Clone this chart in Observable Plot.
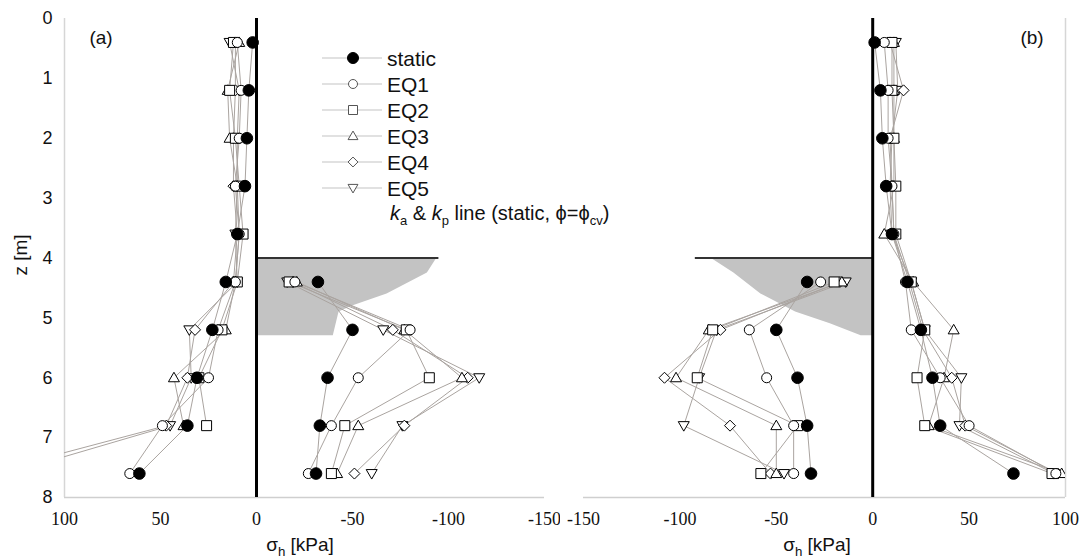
<!DOCTYPE html>
<html><head><meta charset="utf-8">
<script src="https://cdn.jsdelivr.net/npm/d3@7"></script>
<script src="https://cdn.jsdelivr.net/npm/@observablehq/plot@0.6"></script>
<style>
body{margin:0;background:#fff;}
#wrap{position:relative;width:1081px;height:560px;overflow:hidden;font-family:"Liberation Sans",Arial,sans-serif;color:#111;}
#pa,#pb{position:absolute;top:0;}
#pa{left:0px} #pb{left:560px}
.lbl{position:absolute;white-space:nowrap;line-height:1;}
#legend{position:absolute;left:0;top:0;}
g[aria-label="x-axis tick label"] text, g[aria-label="x-axis tick label"]{font-family:"Liberation Serif","Times New Roman",serif !important;font-size:18px !important;}
g[aria-label="y-axis tick label"] text, g[aria-label="y-axis tick label"]{font-family:"Liberation Sans",Arial,sans-serif !important;font-size:18px !important;}
</style></head><body>
<div id="wrap"><div id="pa"></div><div id="pb"></div></div>
<script>
// ---------- data ----------
const seriesNames = ["static", "EQ1", "EQ2", "EQ3", "EQ4", "EQ5"];
const depthRetained = [0.4, 1.2, 2.0, 2.8, 3.6, 4.4, 5.2, 6.0, 6.8, 7.6];
const depthExcavated = [4.4, 5.2, 6.0, 6.8, 7.6];

// panel (a) – retained side (positive sigma_h)
const aRetStatic = [2, 4, 5, 6, 10, 16, 23, 31, 36, 61];
const aRetEQ1 = [10, 8, 9, 11, 9, 11, 20, 25, 49, 66];
const aRetEQ2 = [12, 14, 11, 9, 7, 10, 18, 30, 26, null];
const aRetEQ3 = [9, 15, 14, 10, 9, 11, 16, 43, 38, null];
const aRetEQ4 = [11, 11, 12, 12, 10, 12, 32, 36, 47, 141];
const aRetEQ5 = [14, 9, 10, 10, 11, 10, 35, 34, 45, 130];
// panel (a) – excavated side (negative sigma_h)
const aExcStatic = [-32, -50, -37, -33, -31];
const aExcEQ1 = [-20, -80, -53, -39, -27];
const aExcEQ2 = [-17, -78, -90, -46, -39];
const aExcEQ3 = [-21, -77, -107, -53, -42];
const aExcEQ4 = [-19, -71, -110, -77, -51];
const aExcEQ5 = [-16, -66, -116, -76, -60];

// panel (b) – retained side
const bRetStatic = [1, 4, 5, 7, 10, 18, 25, 31, 35, 73];
const bRetEQ1 = [6, 8, 8, 10, 11, 17, 20, 35, 50, 95];
const bRetEQ2 = [10, 10, 11, 12, 12, 20, 27, 23, 27, 93];
const bRetEQ3 = [11, 11, 11, 11, 6, 21, 42, 37, 29, 98];
const bRetEQ4 = [9, 16, 9, 10, 11, 19, 26, 41, 48, 96];
const bRetEQ5 = [12, 13, 10, 9, 10, 20, 27, 46, 45, 94];
// panel (b) – excavated side
const bExcStatic = [-34, -50, -39, -34, -32];
const bExcEQ1 = [-27, -64, -55, -41, -41];
const bExcEQ2 = [-20, -83, -91, -39, -58];
const bExcEQ3 = [-16, -85, -102, -50, -50];
const bExcEQ4 = [-17, -79, -108, -74, -53];
const bExcEQ5 = [-14, -81, -90, -98, -46];

// shaded zone (ka & kp) below excavation level
const aShadeZ = [4.0, 4.25, 4.6, 4.8, 4.9, 5.3];
const aShadeX = [-94, -89, -68, -50, -43, -40];
const bShadeZ = [4.0, 4.25, 4.6, 4.9, 5.1, 5.3];
const bShadeX = [-84, -72, -58, -40, -22, -6];

const excavationZ = [4];
const aExcavationEnd = -95;
const bExcavationEnd = -92;

const aTicks = [100, 50, 0, -50, -100, -150];
const bTicks = [-150, -100, -50, 0, 50, 100];
const zTicks = [0, 1, 2, 3, 4, 5, 6, 7, 8];

// ---------- symbols ----------
function R(size){ return Math.sqrt(size / Math.PI); }
const symCircle = {draw(c, s){ const r = R(s); c.moveTo(r, 0); c.arc(0, 0, r, 0, 2*Math.PI); c.closePath(); }};
const symSquare = {draw(c, s){ const r = R(s); c.rect(-r, -r, 2*r, 2*r); }};
const symUp = {draw(c, s){ const r = R(s); c.moveTo(0, -1.1*r); c.lineTo(1.1*r, 0.8*r); c.lineTo(-1.1*r, 0.8*r); c.closePath(); }};
const symDiamond = {draw(c, s){ const r = R(s); c.moveTo(0, -1.1*r); c.lineTo(1.1*r, 0); c.lineTo(0, 1.1*r); c.lineTo(-1.1*r, 0); c.closePath(); }};
const symDown = {draw(c, s){ const r = R(s); c.moveTo(0, 1.1*r); c.lineTo(1.1*r, -0.8*r); c.lineTo(-1.1*r, -0.8*r); c.closePath(); }};
const symbols = [symCircle, symCircle, symSquare, symUp, symDiamond, symDown];

function buildRows(ret, exc){
  const rows = [];
  seriesNames.forEach((name, i) => {
    depthRetained.forEach((z, j) => rows.push({s: name, key: name + "-ret", z, v: ret[i][j]}));
    depthExcavated.forEach((z, j) => rows.push({s: name, key: name + "-exc", z, v: exc[i][j]}));
  });
  return rows;
}
const aRows = buildRows([aRetStatic, aRetEQ1, aRetEQ2, aRetEQ3, aRetEQ4, aRetEQ5],
                        [aExcStatic, aExcEQ1, aExcEQ2, aExcEQ3, aExcEQ4, aExcEQ5]);
const bRows = buildRows([bRetStatic, bRetEQ1, bRetEQ2, bRetEQ3, bRetEQ4, bRetEQ5],
                        [bExcStatic, bExcEQ1, bExcEQ2, bExcEQ3, bExcEQ4, bExcEQ5]);

function panel(cfg){
  const shade = cfg.shadeZ.map((z, i) => ({z, x: cfg.shadeX[i]}));
  const dotMarks = [];
  for (let i = seriesNames.length - 1; i >= 0; i--) {
    dotMarks.push(Plot.dot(cfg.rows.filter(d => d.s === seriesNames[i] && d.v != null), {
      x: "v", y: "z", symbol: symbols[i], r: i === 0 ? 5.8 : 5,
      fill: i === 0 ? "#000" : "#fff", stroke: "#000", strokeWidth: 1, clip: true
    }));
  }
  const marks = [
    Plot.areaX(shade, {y: "z", x1: 0, x2: "x", fill: "#c3c3c3"}),
    Plot.ruleY([8], {stroke: "#cfcfcf", strokeWidth: 1.5}),
    Plot.ruleX([100], {stroke: "#d6d6d6", strokeWidth: 1.5}),
    Plot.ruleY(excavationZ, {x1: 0, x2: cfg.excEnd, stroke: "#333", strokeWidth: 2}),
    Plot.line(cfg.rows, {x: "v", y: "z", z: "key", stroke: "#aaa4a0", strokeWidth: 1, clip: true}),
    Plot.ruleX([0], {stroke: "#000", strokeWidth: 3}),
    ...dotMarks,
    Plot.axisX({ticks: cfg.ticks, tickSize: 0, tickPadding: 15, fontSize: 18,
      fontFamily: "Liberation Serif", tickFormat: d => String(d), label: null})
  ];
  if (cfg.yAxis) marks.push(Plot.axisY({ticks: zTicks, tickSize: 0, tickPadding: 12, fontSize: 18,
      fontFamily: "Liberation Sans", label: null}));
  return Plot.plot({
    width: cfg.width, height: 560,
    marginLeft: cfg.ml, marginRight: cfg.mr, marginTop: 18, marginBottom: 63,
    x: {domain: cfg.domain, axis: null},
    y: {domain: [0, 8], reverse: true, axis: null},
    style: {background: "transparent", color: "#111"},
    marks
  });
}

document.getElementById("pa").append(panel({
  rows: aRows, domain: [100, -150], ticks: aTicks, width: 560, ml: 64, mr: 16,
  shadeZ: aShadeZ, shadeX: aShadeX, excEnd: aExcavationEnd, yAxis: true
}));
document.getElementById("pb").append(panel({
  rows: bRows, domain: [-150, 100], ticks: bTicks, width: 521, ml: 23, mr: 16,
  shadeZ: bShadeZ, shadeX: bShadeX, excEnd: bExcavationEnd, yAxis: false
}));

// ---------- text labels ----------
const wrap = document.getElementById("wrap");
function label(html, x, y, size, extra){
  const d = document.createElement("div");
  d.className = "lbl"; d.innerHTML = html;
  d.style.left = x + "px"; d.style.top = y + "px"; d.style.fontSize = size + "px";
  d.style.transform = extra || "translate(-50%,-50%)";
  wrap.append(d);
}
label("(a)", 101, 37, 19);
label("(b)", 1032, 37, 19);
label("z [m]", 20, 255, 19, "translate(-50%,-50%) rotate(-90deg)");
label("σ<sub style='font-size:70%'>h</sub> [kPa]", 300, 547, 19);
label("σ<sub style='font-size:70%'>h</sub> [kPa]", 817, 547, 19);

// ---------- legend ----------
const legendItems = ["static", "EQ1", "EQ2", "EQ3", "EQ4", "EQ5"];
const legendY = [58, 84, 110, 136, 162, 188];
const lg = d3.select(wrap).append("svg").attr("id", "legend").attr("width", 1081).attr("height", 560);
legendItems.forEach((name, i) => {
  const y = legendY[i];
  lg.append("line").attr("x1", 322).attr("x2", 382).attr("y1", y).attr("y2", y)
    .attr("stroke", "#c4c4c4").attr("stroke-width", 1.2);
  const r = i === 0 ? 5.5 : 4.5;
  lg.append("path").attr("transform", `translate(353,${y})`)
    .attr("d", d3.symbol().type(symbols[i]).size(Math.PI * r * r)())
    .attr("fill", i === 0 ? "#000" : "#fff").attr("stroke", i === 0 ? "#000" : "#555").attr("stroke-width", 1);
  lg.append("text").attr("x", 387).attr("y", y).attr("dy", "0.36em")
    .attr("font-size", 21).attr("font-family", "Liberation Sans, Arial, sans-serif").attr("fill", "#111").text(name);
});
label("<i>k</i><sub style='font-size:65%'>a</sub> &amp; <i>k</i><sub style='font-size:65%'>p</sub> line (static, ϕ=ϕ<sub style='font-size:65%'>cv</sub>)", 390, 215, 20, "translate(0,-50%)");
</script>
</body></html>
